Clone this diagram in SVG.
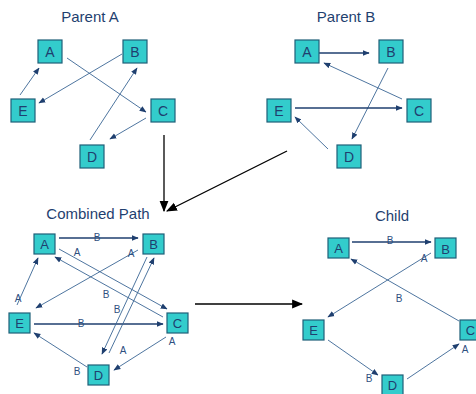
<svg xmlns="http://www.w3.org/2000/svg" width="476" height="394" viewBox="0 0 476 394">
<defs>
<style>
.box{fill:#33CCCC;stroke:#1F5F78;stroke-width:1.2}
.nt{font-family:"Liberation Sans",Arial,sans-serif;font-size:14px;fill:#1F3F6F;text-anchor:middle}
.nt2{font-family:"Liberation Sans",Arial,sans-serif;font-size:13px;fill:#1F3F6F;text-anchor:middle}
.title{font-family:"Liberation Sans",Arial,sans-serif;font-size:15px;fill:#1F3F6F;text-anchor:middle}
.thin{stroke:#3A6594;stroke-width:0.9;fill:none;marker-end:url(#ah)}
.thick{stroke:#1F3F6F;stroke-width:1.5;fill:none;marker-end:url(#ahk)}
.big{stroke:#000;stroke-width:1.3;fill:none;marker-end:url(#ahb)}
.lbl{font-family:"Liberation Sans",Arial,sans-serif;font-size:10px;fill:#2F4F7F;text-anchor:middle}
</style>
<marker id="ah" viewBox="0 0 10 10" refX="9" refY="5" markerWidth="7" markerHeight="7" markerUnits="userSpaceOnUse" orient="auto"><path d="M0,1 L10,5 L0,9 z" fill="#1F3F6F"/></marker>
<marker id="ahk" viewBox="0 0 10 10" refX="9" refY="5" markerWidth="7" markerHeight="7" markerUnits="userSpaceOnUse" orient="auto"><path d="M0,1 L10,5 L0,9 z" fill="#1F3F6F"/></marker>
<marker id="ahb" viewBox="0 0 10 10" refX="9" refY="5" markerWidth="11" markerHeight="11" markerUnits="userSpaceOnUse" orient="auto"><path d="M0,1 L10,5 L0,9 z" fill="#000"/></marker>
</defs>
<rect width="476" height="394" fill="#fff"/>

<g id="titles">
<text class="title" x="90" y="22">Parent A</text>
<text class="title" x="346" y="22">Parent B</text>
<text class="title" x="98" y="219">Combined Path</text>
<text class="title" x="392" y="221">Child</text>
</g>

<g id="connectors">
<!-- Parent A -->
<line class="thin" x1="20" y1="95" x2="39" y2="68"/>
<line class="thin" x1="122" y1="54" x2="39" y2="103"/>
<line class="thin" x1="67" y1="58" x2="146" y2="112"/>
<line class="thin" x1="90" y1="140" x2="137" y2="68"/>
<line class="thin" x1="146" y1="118" x2="110" y2="139"/>
<!-- Parent B -->
<line class="thick" x1="319" y1="53" x2="369" y2="53"/>
<line class="thin" x1="402" y1="99" x2="324" y2="63"/>
<line class="thin" x1="388" y1="68" x2="352" y2="139"/>
<line class="thick" x1="295" y1="108" x2="402" y2="108"/>
<line class="thin" x1="328" y1="149" x2="295" y2="117"/>
<!-- big arrows -->
<line class="big" x1="164" y1="135" x2="164" y2="211"/>
<line class="big" x1="287" y1="151" x2="167" y2="211"/>
<line class="big" x1="195" y1="304" x2="302" y2="304"/>
<!-- Combined -->
<line class="thick" x1="59" y1="238" x2="138" y2="238"/>
<line class="thin" x1="59" y1="249" x2="167" y2="309"/>
<line class="thin" x1="163" y1="317" x2="55" y2="257"/>
<line class="thin" x1="138" y1="250" x2="36" y2="308"/>
<line class="thin" x1="17" y1="305" x2="38" y2="258"/>
<line class="thick" x1="34" y1="324" x2="163" y2="324"/>
<line class="thin" x1="147" y1="257" x2="102" y2="354"/>
<line class="thin" x1="109" y1="353" x2="154" y2="258"/>
<line class="thin" x1="166" y1="337" x2="114" y2="370"/>
<line class="thin" x1="87" y1="367" x2="34" y2="333"/>
<!-- Child -->
<line class="thick" x1="352" y1="242" x2="431" y2="242"/>
<line class="thin" x1="459" y1="321" x2="351" y2="259"/>
<line class="thin" x1="431" y1="253" x2="328" y2="317"/>
<line class="thin" x1="328" y1="340" x2="378" y2="375"/>
<line class="thin" x1="407" y1="379" x2="459" y2="344"/>
</g>

<g id="labels">
<text class="lbl" x="97" y="241">B</text>
<text class="lbl" x="77" y="256">A</text>
<text class="lbl" x="106" y="298">B</text>
<text class="lbl" x="131" y="257">A</text>
<text class="lbl" x="18" y="302">A</text>
<text class="lbl" x="81" y="327">B</text>
<text class="lbl" x="117" y="313">B</text>
<text class="lbl" x="123" y="354">A</text>
<text class="lbl" x="172" y="345">A</text>
<text class="lbl" x="77" y="375">B</text>
<text class="lbl" x="390" y="244">B</text>
<text class="lbl" x="399" y="302">B</text>
<text class="lbl" x="424" y="262">A</text>
<text class="lbl" x="369" y="382">B</text>
<text class="lbl" x="465" y="353">A</text>
</g>

<!-- Parent A nodes -->
<g id="pa-A"><rect class="box" x="38" y="40" width="24" height="23"/><text class="nt" x="50" y="56.5">A</text></g>
<g id="pa-B"><rect class="box" x="123" y="40" width="24" height="23"/><text class="nt" x="135" y="56.5">B</text></g>
<g id="pa-E"><rect class="box" x="11" y="99" width="24" height="23"/><text class="nt" x="23" y="115.5">E</text></g>
<g id="pa-C"><rect class="box" x="151" y="99" width="24" height="23"/><text class="nt" x="163" y="115.5">C</text></g>
<g id="pa-D"><rect class="box" x="80" y="145" width="24" height="23"/><text class="nt" x="92" y="161.5">D</text></g>

<!-- Parent B nodes -->
<g id="pb-A"><rect class="box" x="295" y="40" width="24" height="23"/><text class="nt" x="307" y="56.5">A</text></g>
<g id="pb-B"><rect class="box" x="379" y="40" width="24" height="23"/><text class="nt" x="391" y="56.5">B</text></g>
<g id="pb-E"><rect class="box" x="267" y="99" width="24" height="23"/><text class="nt" x="279" y="115.5">E</text></g>
<g id="pb-C"><rect class="box" x="407" y="99" width="24" height="23"/><text class="nt" x="419" y="115.5">C</text></g>
<g id="pb-D"><rect class="box" x="337" y="145" width="24" height="23"/><text class="nt" x="349" y="161.5">D</text></g>

<!-- Combined nodes -->
<g id="cp-A"><rect class="box" x="34" y="234" width="21" height="20"/><text class="nt2" x="44.5" y="248.5">A</text></g>
<g id="cp-B"><rect class="box" x="143" y="234" width="21" height="20"/><text class="nt2" x="153.5" y="248.5">B</text></g>
<g id="cp-E"><rect class="box" x="9" y="313" width="21" height="20"/><text class="nt2" x="19.5" y="327.5">E</text></g>
<g id="cp-C"><rect class="box" x="167" y="313" width="21" height="20"/><text class="nt2" x="177.5" y="327.5">C</text></g>
<g id="cp-D"><rect class="box" x="88" y="365" width="21" height="20"/><text class="nt2" x="98.5" y="379.5">D</text></g>

<!-- Child nodes -->
<g id="ch-A"><rect class="box" x="328" y="238" width="21" height="20"/><text class="nt2" x="338.5" y="252.5">A</text></g>
<g id="ch-B"><rect class="box" x="435" y="238" width="21" height="20"/><text class="nt2" x="445.5" y="253.5">B</text></g>
<g id="ch-E"><rect class="box" x="303" y="320" width="21" height="20"/><text class="nt2" x="313.5" y="334.5">E</text></g>
<g id="ch-C"><rect class="box" x="460" y="320" width="21" height="20"/><text class="nt2" x="470.5" y="334.5">C</text></g>
<g id="ch-D"><rect class="box" x="382" y="375" width="21" height="20"/><text class="nt2" x="392.5" y="389.5">D</text></g>
</svg>
